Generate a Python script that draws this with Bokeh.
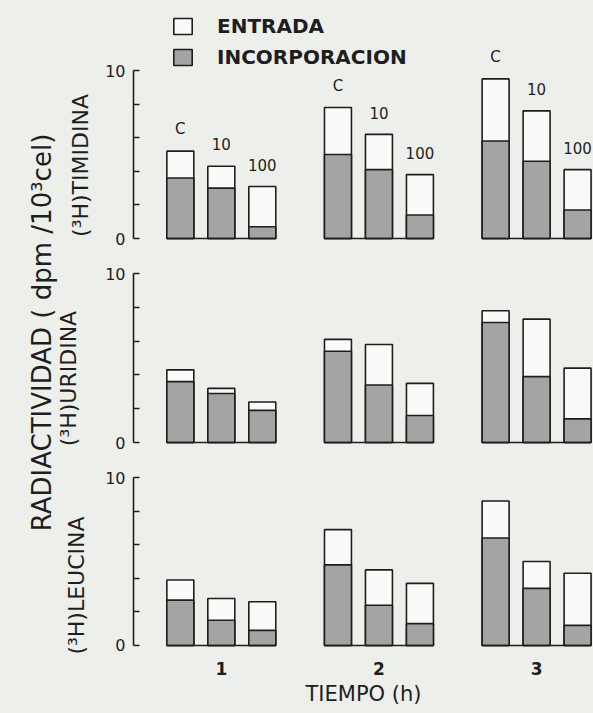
import math
from bokeh.plotting import figure
from bokeh.models import (Range1d, LinearAxis, FixedTicker, Legend, LegendItem,
                          ColumnDataSource)
from bokeh.layouts import row, column
from bokeh.embed import file_html
from bokeh.resources import INLINE
from bokeh.core.properties import value

# ---------------- data ----------------
times = [1, 2, 3]
tick_labels = ["1", "2", "3"]
doses = ["C", "10", "100"]

# (3H)TIMIDINA   -- order: t1 C,10,100 | t2 C,10,100 | t3 C,10,100
timidina_entrada = [5.2, 4.3, 3.1, 7.8, 6.2, 3.8, 9.5, 7.6, 4.1]
timidina_incorp = [3.6, 3.0, 0.7, 5.0, 4.1, 1.4, 5.8, 4.6, 1.7]
# (3H)URIDINA
uridina_entrada = [4.3, 3.2, 2.4, 6.1, 5.8, 3.5, 7.8, 7.3, 4.4]
uridina_incorp = [3.6, 2.9, 1.9, 5.4, 3.4, 1.6, 7.1, 3.9, 1.4]
# (3H)LEUCINA
leucina_entrada = [3.9, 2.8, 2.6, 6.9, 4.5, 3.7, 8.6, 5.0, 4.3]
leucina_incorp = [2.7, 1.5, 0.9, 4.8, 2.4, 1.3, 6.4, 3.4, 1.2]

panel_titles = ["(³H)TIMIDINA", "(³H)URIDINA", "(³H)LEUCINA"]
y_title = "RADIACTIVIDAD ( dpm /10³cel)"
x_title = "TIEMPO (h)"
legend_labels = ["ENTRADA", "INCORPORACION"]

# ---------------- style ----------------
BG = "#edefeb"
INK = "#1e1e1e"
GRAY = "#a4a4a4"
WHITE = "#fafbf8"
FONT = "DejaVu Sans"
dose_offset = [-0.26, 0.0, 0.26]
BAR_W = 0.171
HALF_SPAN = 0.26 + BAR_W / 2

xs = [t + o for t in times for o in dose_offset]
dose_col = [d for t in times for d in doses]

LEFT_W = 102
PANEL_W = 593 - LEFT_W
xr = Range1d(0.443, 3.361)


def make_panel(height, y0, y1, entrada, incorp, bottom=False, bottom_border=0):
    p = figure(width=PANEL_W, height=height, x_range=xr, y_range=Range1d(y0, y1),
               output_backend="svg", toolbar_location=None,
               x_axis_location="below" if bottom else None, y_axis_location=None,
               min_border=0, min_border_left=30, min_border_bottom=bottom_border,
               background_fill_color=BG, border_fill_color=BG,
               outline_line_color=None)
    p.grid.grid_line_color = None
    yaxis = LinearAxis(bounds=(0, 10), ticker=FixedTicker(ticks=[0, 2, 4, 6, 8, 10]),
                       major_label_overrides={2: "", 4: "", 6: "", 8: ""},
                       major_tick_in=6, major_tick_out=0, minor_tick_line_color=None,
                       axis_line_width=1.6, major_tick_line_width=1.6,
                       axis_line_color=INK, major_tick_line_color=INK,
                       major_label_standoff=8,
                       major_label_text_font=FONT, major_label_text_font_size="16px",
                       major_label_text_color=INK)
    p.add_layout(yaxis, "left")
    src = ColumnDataSource(dict(x=xs, entrada=entrada, incorp=incorp, dose=dose_col))
    r_ent = p.vbar(x="x", top="entrada", bottom=0, width=BAR_W, source=src,
                   fill_color=WHITE, line_color=INK, line_width=1.6)
    r_inc = p.vbar(x="x", top="incorp", bottom=0, width=BAR_W, source=src,
                   fill_color=GRAY, line_color=INK, line_width=1.6)
    p.segment(x0=[t - HALF_SPAN for t in times], x1=[t + HALF_SPAN for t in times],
              y0=[0] * len(times), y1=[0] * len(times), line_color=INK, line_width=1.6)
    if bottom:
        p.xaxis.ticker = FixedTicker(ticks=times)
        p.xaxis.major_label_overrides = {t: l for t, l in zip(times, tick_labels)}
        p.xaxis.axis_line_color = None
        p.xaxis.major_tick_line_color = None
        p.xaxis.minor_tick_line_color = None
        p.xaxis.major_label_standoff = 5
        p.xaxis.major_label_text_font = FONT
        p.xaxis.major_label_text_font_size = "17px"
        p.xaxis.major_label_text_font_style = "bold"
        p.xaxis.major_label_text_color = INK
        p.xaxis.axis_label = x_title
        p.xaxis.axis_label_standoff = 4
        p.xaxis.axis_label_text_font = FONT
        p.xaxis.axis_label_text_font_size = "21px"
        p.xaxis.axis_label_text_font_style = "normal"
        p.xaxis.axis_label_text_color = INK
    return p, src, r_ent, r_inc


p1, s1, e1, i1 = make_panel(256, -1.071, 14.167, timidina_entrada, timidina_incorp)
p2, s2, e2, i2 = make_panel(204, -1.065, 11.006, uridina_entrada, uridina_incorp)
p3, s3, e3, i3 = make_panel(253, -0.298, 11.012, leucina_entrada, leucina_incorp,
                            bottom=True, bottom_border=63)

# dose labels above top panel bars
LABEL_GAP = 1.3
p1.text(x=xs, y=[v + LABEL_GAP for v in timidina_entrada], text=dose_col,
        text_align="center", text_baseline="middle", text_font=value(FONT),
        text_font_size="15px", text_color=INK)

legend = Legend(items=[LegendItem(label=legend_labels[0], renderers=[e1]),
                       LegendItem(label=legend_labels[1], renderers=[i1])],
                location=(38, 187), orientation="vertical",
                glyph_width=23, glyph_height=20, label_standoff=23, spacing=7,
                padding=0, margin=0, border_line_color=None, background_fill_alpha=0,
                label_text_font=FONT, label_text_font_size="20px",
                label_text_font_style="bold", label_text_color=INK, label_height=24)
p1.add_layout(legend)

# ---------------- left titles ----------------
H = 713
lf = figure(width=LEFT_W, height=H, x_range=Range1d(0, LEFT_W), y_range=Range1d(0, H),
            output_backend="svg", toolbar_location=None,
            x_axis_location=None, y_axis_location=None, min_border=0,
            background_fill_color=BG, border_fill_color=BG, outline_line_color=None)
lf.grid.grid_line_color = None
lf.text(x=[41], y=[H - 332], text=[y_title], angle=math.pi / 2,
        text_align="center", text_baseline="middle", text_font=value(FONT),
        text_font_size="26px", text_color=INK)
lf.text(x=[80, 68, 76], y=[H - 165, H - 378, H - 585], text=panel_titles,
        angle=math.pi / 2, text_align="center", text_baseline="middle",
        text_font=value(FONT), text_font_size="22px", text_color=INK)

layout = row(lf, column(p1, p2, p3, spacing=0, styles={"background-color": BG}),
             spacing=0, styles={"background-color": BG})
open("out.html", "w").write(file_html(layout, INLINE))
